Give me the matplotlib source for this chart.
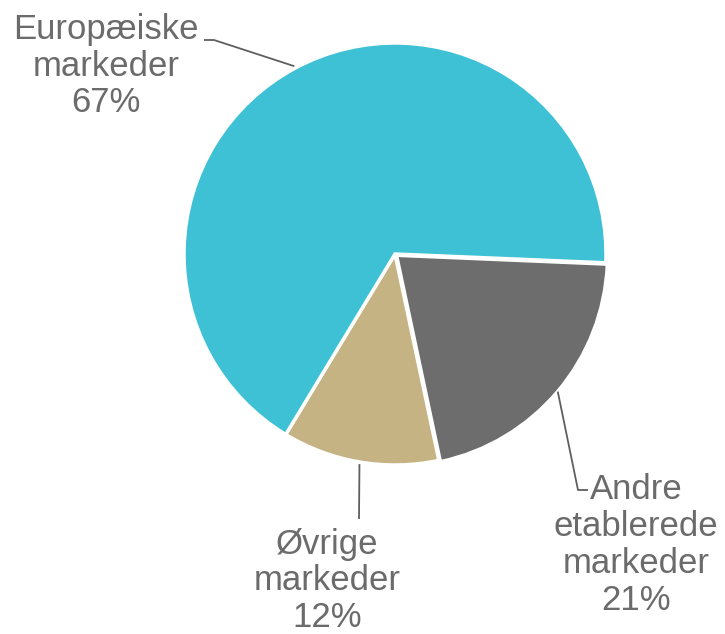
import numpy as np
import matplotlib.pyplot as plt

labels = ["Andre\netablerede\nmarkeder", "Øvrige\nmarkeder", "Europæiske\nmarkeder"]
values = [21, 12, 67]
colors = ["#6D6D6D", "#C6B383", "#3EC1D5"]

# label text positions (pixels, y from top) and elbow of leader line
text_pos = [(636, 545), (327, 581), (106, 66)]
elbows = [(578, 490), (359, 519), (214, 40)]
line_ends = [(588, 490), (359, 519), (204, 40)]

W, H = 725, 634
fig = plt.figure(figsize=(7.25, 6.34), dpi=100)
ax = fig.add_axes([0, 0, 1, 1])
ax.set_xlim(0, W)
ax.set_ylim(0, H)
ax.axis("off")

cx, cy, R = 395, H - 254, 211
start = -2.4
wedges, _ = ax.pie(values, colors=colors, startangle=start, counterclock=False,
                   center=(cx, cy), radius=R, explode=[2, 0, 0],
                   wedgeprops=dict(edgecolor="white", linewidth=2.5))
ax.set_xlim(0, W)
ax.set_ylim(0, H)
ax.set_aspect("equal")

txt_col = "#6B6B6B"
for w, lab, v, tp, el, le in zip(wedges, labels, values, text_pos, elbows, line_ends):
    ang = np.deg2rad((w.theta1 + w.theta2) / 2)
    ax_pt = (cx + 1.01 * R * np.cos(ang), cy + 1.01 * R * np.sin(ang))
    xs = [ax_pt[0], el[0], le[0]]
    ys = [ax_pt[1], H - el[1], H - le[1]]
    ax.plot(xs, ys, color="#5F5F5F", lw=1.3, solid_capstyle="butt")
    ax.text(tp[0], H - tp[1], f"{lab}\n{v}%", ha="center", va="center",
            fontsize=25, color=txt_col, family="Liberation Sans", linespacing=1.15)

fig.savefig("out.png", dpi=100)
